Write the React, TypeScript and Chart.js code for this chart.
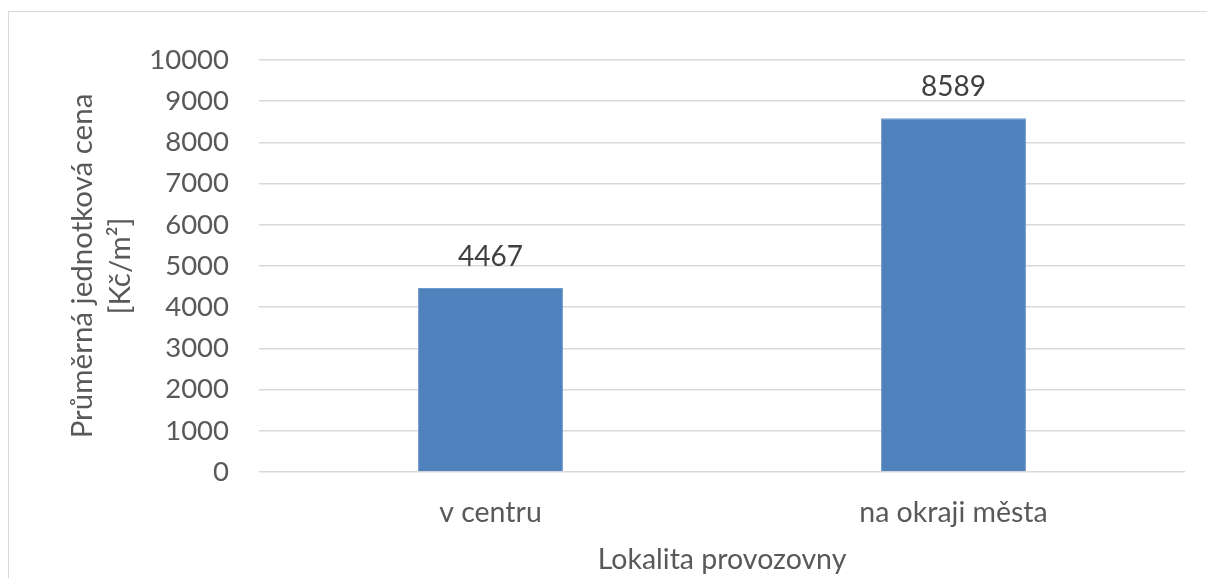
import React, { useEffect, useRef } from "react";
import { Chart, registerables } from "chart.js";

Chart.register(...registerables);

const categories = ["v centru", "na okraji města"];
const values = [4467, 8589];
const yMin = 0;
const yMax = 10000;
const yStep = 1000;
const yTitle = ["Průměrná jednotková cena", "[Kč/m²]"];
const xTitle = "Lokalita provozovny";

const FONT = "Lato, 'Open Sans', sans-serif";
const TEXT = "#595959";

const framePlugin = {
  id: "frame",
  beforeDraw(chart: any) {
    const ctx = chart.ctx;
    ctx.save();
    ctx.fillStyle = "#ffffff";
    ctx.fillRect(0, 0, chart.width, chart.height);
    ctx.strokeStyle = "#d9d9d9";
    ctx.lineWidth = 1;
    ctx.strokeRect(8.5, 11.5, chart.width + 100, chart.height + 100);
    ctx.restore();
  },
};

const labelPlugin = {
  id: "barLabels",
  afterDatasetsDraw(chart: any) {
    const ctx = chart.ctx;
    const meta = chart.getDatasetMeta(0);
    ctx.save();
    ctx.font = `28px ${FONT}`;
    ctx.fillStyle = "#404040";
    ctx.textAlign = "center";
    ctx.textBaseline = "middle";
    meta.data.forEach((bar: any, i: number) => {
      const v = chart.data.datasets[0].data[i];
      ctx.fillText(String(v), bar.x, bar.y - 31);
    });
    ctx.restore();
  },
};

export default function App() {
  const ref = useRef<HTMLCanvasElement | null>(null);
  useEffect(() => {
    if (!ref.current) return;
    const chart = new Chart(ref.current, {
      type: "bar",
      data: {
        labels: categories,
        datasets: [
          {
            data: values,
            backgroundColor: "#4f81bd",
            borderColor: "#6f98cc",
            borderWidth: 1,
            categoryPercentage: 1,
            barPercentage: 0.313,
          },
        ],
      },
      options: {
        animation: false,
        responsive: false,
        layout: { padding: { left: 0, right: 22, top: 60, bottom: 0 } },
        plugins: { legend: { display: false }, tooltip: { enabled: false } },
        scales: {
          x: {
            grid: { display: false, drawTicks: false },
            border: { display: false },
            ticks: {
              color: TEXT,
              font: { family: FONT, size: 28.5 },
              padding: 24,
              maxRotation: 0,
            },
            title: {
              display: true,
              text: xTitle,
              color: TEXT,
              font: { family: FONT, size: 28.5, lineHeight: 1.2 },
              padding: { top: 0, bottom: 1 },
            },
            afterFit(scale: any) {
              scale.height = 106;
            },
          },
          y: {
            min: yMin,
            max: yMax,
            grid: { color: "#d9d9d9", lineWidth: 1.5, drawTicks: false },
            border: { display: false },
            ticks: {
              stepSize: yStep,
              color: TEXT,
              font: { family: FONT, size: 27.5 },
              padding: 30,
              callback: (v: any) => String(v),
            },
            title: {
              display: true,
              text: yTitle,
              color: TEXT,
              font: { family: FONT, size: 29.5, lineHeight: 1.27 },
              padding: { top: 64, bottom: 0 },
            },
            afterFit(scale: any) {
              scale.width = 259;
            },
          },
        },
      },
      plugins: [framePlugin, labelPlugin],
    });
    return () => chart.destroy();
  }, []);
  return (
    <div style={{ position: "absolute", left: 0, top: 0, width: 1207, height: 578 }}>
      <canvas ref={ref} width={1207} height={578} style={{ display: "block" }} />
    </div>
  );
}
